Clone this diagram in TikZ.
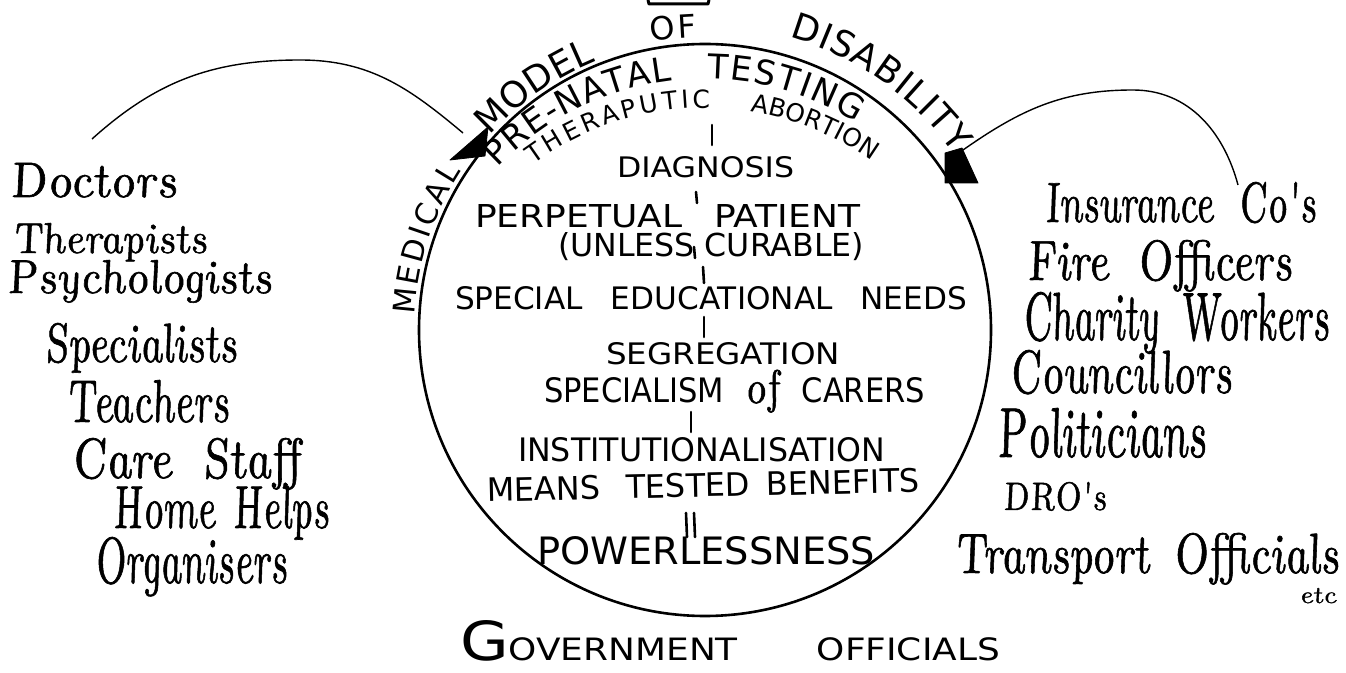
\documentclass[tikz,border=0pt]{standalone}
\usepackage{fontspec}
\usepackage{graphicx}
\newfontfamily\capsfont{DejaVu Sans}
\newfontfamily\handfont{lmroman10-italic.otf}[FakeSlant=-0.2, FakeBold=1.2]
\usetikzlibrary{decorations.text}
\newcommand\fitt[3]{\resizebox{#1pt}{#2pt}{#3}}
\tikzset{
  lab/.style={inner sep=0pt, outer sep=0pt, anchor=base west},
  hand/.style={lab, font=\handfont},
  caps/.style={lab, font=\capsfont},
  sepline/.style={line width=2.6pt, line cap=round},
  link/.style={line width=1.4pt},
  arrowfill/.style={fill=black, draw=black, line width=0.8pt, line join=round},
  arctext/.style 2 args={decorate, decoration={text along path,
      text={|\capsfont\fontsize{#1}{#1}\selectfont|#2}, text align={fit to path}}}
}
\begin{document}
\begin{tikzpicture}[x=1pt,y=1pt]
\fill[white] (0,0) rectangle (1346,672);
\useasboundingbox (0,0) rectangle (1346,672);

% the circle
\node[draw, circle, line width=2.6pt, minimum size=572pt, inner sep=0pt] (model) at (705,342) {};

% stray mark at the top edge
\draw[line width=3pt, line join=round] (648,672) -- (649,668) -- (708,668) -- (709,672);

% title round the circle
\path[arctext={30}{MEDICAL}] ([shift={(177:291)}]705,342) arc[start angle=177, end angle=147, radius=291];
\path[arctext={36}{MODEL}] ([shift={(138:290)}]705,342) arc[start angle=138, end angle=112, radius=290];
\path[arctext={32}{OF}] ([shift={(100.5:293)}]705,342) arc[start angle=100.5, end angle=91.5, radius=293];
\path[arctext={36}{DISABILITY}] ([shift={(74:305)}]705,342) arc[start angle=74, end angle=35.3, radius=305];

% inner curved lines
\path[arctext={34}{PRE-NATAL}] ([shift={(136.4:286)}]705,307) arc[start angle=136.4, end angle=96.6, radius=286];
\path[arctext={34}{TESTING}] ([shift={(89.6:286)}]705,307) arc[start angle=89.6, end angle=58, radius=286];
\path[arctext={25}{THERAPUTIC}] ([shift={(126.4:289)}]705,275) arc[start angle=126.4, end angle=89, radius=289];
\path[arctext={25}{ABORTION}] ([shift={(81:289)}]705,275) arc[start angle=81, end angle=54.7, radius=289];

% inner list
\node[caps] (diag) at (617,494) {\fitt{177}{21}{DIAGNOSIS}};
\node[caps] (perp) at (475,444) {\fitt{385}{23}{PERPETUAL\hspace{0.9em}PATIENT}};
\node[caps] (unless) at (558,415) {\fitt{306}{24}{(UNLESS CURABLE)}};
\node[caps] (sen) at (455,362) {\fitt{512}{23}{SPECIAL\hspace{0.9em}EDUCATIONAL\hspace{0.9em}NEEDS}};
\node[caps] (segr) at (606,307) {\fitt{234}{22}{SEGREGATION}};
\node[caps] (carers) at (544,269) {\fitt{381}{25}{SPECIALISM\hspace{0.7em}\smash{\handfont\fontsize{14}{14}\selectfont of}\hspace{0.7em}CARERS}};
\node[caps] (inst) at (518,210) {\fitt{367}{24}{INSTITUTIONALISATION}};
\node[caps, anchor=base, rotate=1.3] (means) at (703.5,175) {\fitt{433}{24}{MEANS\hspace{0.8em}TESTED\hspace{0.5em}BENEFITS}};
\node[caps] (power) at (537,107) {\fitt{338}{28}{POWERLESSNESS}};

% separators
\draw[sepline] (712,547) coordinate (s1a) -- (712,527) coordinate (s1b);
\draw[sepline] (696,480) coordinate (s2a) -- (697,469) coordinate (s2b);
\draw[sepline] (694,425) coordinate (s3a) -- (695,414) coordinate (s3b);
\draw[sepline] (703,405) coordinate (s4a) -- (704,389) coordinate (s4b);
\draw[sepline] (704,355) coordinate (s5a) -- (704,335) coordinate (s5b);
\draw[sepline] (691,260) coordinate (s6a) -- (691,240) coordinate (s6b);
\draw[sepline] (686,159) coordinate (s7a) -- (687,135) coordinate (s7b);
\draw[sepline] (694,159) coordinate (s8a) -- (695,135) coordinate (s8b);

% bottom
\node[caps] (gov) at (460,12) {\fitt{540}{40}{{\fontsize{42}{42}\selectfont G}\fontsize{24}{24}\selectfont OVERNMENT\hspace{2.2em}OFFICIALS}};

% left list
\node[hand] (doctors) at (10,475) {\fitt{168}{34}{Doctors}};
\node[hand] (therap) at (13,419) {\fitt{195}{30}{Therapists}};
\node[hand] (psych) at (7,379) {\fitt{266}{33}{Psychologists}};
\node[hand] (spec) at (45,310) {\fitt{193}{39}{Specialists}};
\node[hand] (teach) at (67,250) {\fitt{163}{42}{Teachers}};
\node[hand] (care) at (72,194) {\fitt{230}{40}{Care\hspace{0.6em}Staff}};
\node[hand] (home) at (113,144) {\fitt{217}{42}{Home\hspace{0.4em}Helps}};
\node[hand] (organ) at (95,89) {\fitt{193}{46}{Organisers}};

% right list
\node[hand] (insur) at (1045,450) {\fitt{272}{40}{Insurance\hspace{0.6em}Co's}};
\node[hand] (fire) at (1027,392) {\fitt{266}{40}{Fire\hspace{0.6em}Officers}};
\node[hand] (charity) at (1023,332) {\fitt{307}{48}{Charity\hspace{0.5em}Workers}};
\node[hand] (counc) at (1010,279) {\fitt{223}{43}{Councillors}};
\node[hand] (polit) at (997,215) {\fitt{210}{49}{Politicians}};
\node[hand] (dro) at (1003,162) {\fitt{104}{28}{DRO's}};
\node[hand] (transp) at (955,99) {\fitt{385}{40}{Transport\hspace{0.5em}Officials}};
\node[hand] (etc) at (1300,69) {\fitt{37}{15}{etc}};

% connectors with arrowheads
\coordinate (lstart) at (92,533);
\coordinate (lpeak) at (300,612);
\coordinate (ltip) at (463,539);
\draw[link] (lstart) to[out=42,in=180] (lpeak) to[out=0,in=140] (ltip);
\fill[arrowfill] (488,545) -- (450,512) -- (485,516) -- cycle;

\coordinate (rstart) at (1238,487);
\coordinate (rpeak) at (1133,582);
\coordinate (rtip) at (963,522);
\draw[link] (rstart) to[out=105,in=0] (rpeak) to[out=180,in=35] (rtip);
\fill[arrowfill] (945,519) -- (962,524) -- (978,489) -- (945,489) -- cycle;
\end{tikzpicture}
\end{document}
